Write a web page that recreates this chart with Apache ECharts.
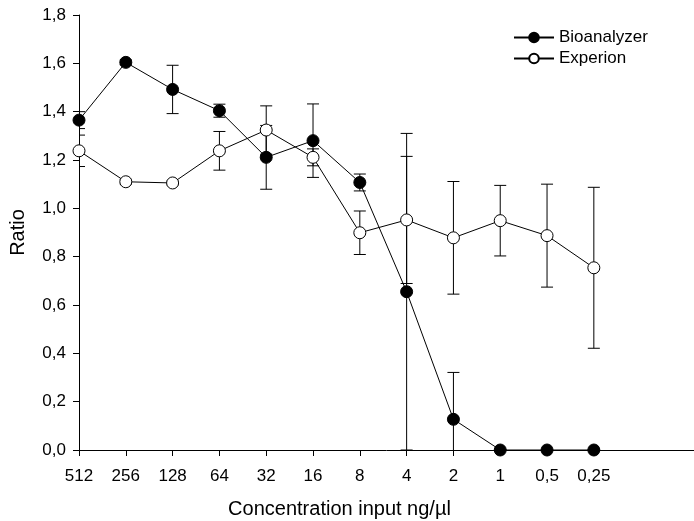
<!DOCTYPE html>
<html>
<head>
<meta charset="utf-8">
<script src="https://cdn.jsdelivr.net/npm/echarts@6/dist/echarts.min.js"></script>
<style>html,body{margin:0;padding:0;background:#fff}#c{width:694px;height:521px}</style>
</head>
<body>
<div id="c"></div>
<script>
const categories = ['512','256','128','64','32','16','8','4','2','1','0,5','0,25'];
const bioanalyzer = [1.365, 1.604, 1.492, 1.404, 1.211, 1.280, 1.107, 0.655, 0.127, 0, 0, 0];
const bioanalyzerErr = [0.035, 0.010, 0.100, 0.027, 0.132, 0.152, 0.035, 0.655, 0.194, 0, 0, 0];
const experion = [1.238, 1.110, 1.105, 1.238, 1.324, 1.211, 0.899, 0.952, 0.878, 0.949, 0.887, 0.754];
const experionErr = [0.065, 0.010, 0.008, 0.080, 0.100, 0.035, 0.090, 0.263, 0.233, 0.146, 0.213, 0.333];
const yTicks = [0, 0.2, 0.4, 0.6, 0.8, 1.0, 1.2, 1.4, 1.6, 1.8];

const FONT = 'Liberation Sans, Arial, sans-serif';
const idx = categories.map((_, i) => i);

function errData(vals, errs) {
  return vals.map((v, i) => [i, v - errs[i], v + errs[i]]);
}
function errSeries(vals, errs) {
  return {
    type: 'custom',
    clip: true,
    z: 1,
    silent: true,
    data: errData(vals, errs),
    encode: {x: 0, y: [1, 2]},
    renderItem: function (params, api) {
      const x = api.value(0);
      const lo = api.coord([x, api.value(1)]);
      const hi = api.coord([x, api.value(2)]);
      const w = 6;
      const style = {stroke: '#000', lineWidth: 1, fill: null};
      return {
        type: 'group',
        children: [
          {type: 'line', shape: {x1: lo[0], y1: lo[1], x2: hi[0], y2: hi[1]}, style: style},
          {type: 'line', shape: {x1: lo[0] - w, y1: lo[1], x2: lo[0] + w, y2: lo[1]}, style: style},
          {type: 'line', shape: {x1: hi[0] - w, y1: hi[1], x2: hi[0] + w, y2: hi[1]}, style: style}
        ]
      };
    }
  };
}

const chart = echarts.init(document.getElementById('c'), null, {renderer: 'canvas'});
chart.setOption({
  animation: false,
  backgroundColor: '#fff',
  grid: {left: 79, top: 15, right: 0, bottom: 71, containLabel: false, outerBoundsMode: 'none'},
  legend: {
    orient: 'vertical',
    left: 508,
    top: 24,
    itemWidth: 40,
    itemHeight: 12,
    itemGap: 4,
    textStyle: {fontFamily: FONT, fontSize: 17, color: '#000'},
    data: ['Bioanalyzer', 'Experion']
  },
  xAxis: {
    type: 'value',
    min: 0,
    max: 13.14,
    interval: 1,
    splitLine: {show: false},
    axisLine: {onZero: false, lineStyle: {color: '#000', width: 1}},
    axisTick: {show: true, length: 6, inside: false, customValues: idx, lineStyle: {color: '#000'}},
    axisLabel: {
      customValues: idx,
      margin: 18,
      fontFamily: FONT, fontSize: 17, color: '#000',
      formatter: function (v) { return categories[Math.round(v)] || ''; }
    },
    name: 'Concentration input ng/\u00b5l',
    nameLocation: 'middle',
    nameGap: 49,
    nameTextStyle: {fontFamily: FONT, fontSize: 20, color: '#000', padding: [0, 94, 0, 0]}
  },
  yAxis: {
    type: 'value',
    min: 0,
    max: 1.8,
    interval: 0.2,
    splitLine: {show: false},
    axisLine: {show: true, lineStyle: {color: '#000', width: 1}},
    axisTick: {show: true, length: 6, lineStyle: {color: '#000'}},
    axisLabel: {
      margin: 13,
      fontFamily: FONT, fontSize: 17, color: '#000',
      formatter: function (v) { return v.toFixed(1).replace('.', ','); }
    },
    name: 'Ratio',
    nameLocation: 'middle',
    nameGap: 51,
    nameTextStyle: {fontFamily: FONT, fontSize: 20, color: '#000'}
  },
  series: [
    errSeries(bioanalyzer, bioanalyzerErr),
    errSeries(experion, experionErr),
    {
      name: 'Bioanalyzer',
      type: 'line',
      z: 3,
      data: bioanalyzer.map((v, i) => [i, v]),
      symbol: 'circle',
      symbolSize: 12,
      clip: false,
      lineStyle: {color: '#000', width: 1},
      itemStyle: {color: '#000', borderColor: '#000', borderWidth: 1}
    },
    {
      name: 'Experion',
      type: 'line',
      z: 4,
      data: experion.map((v, i) => [i, v]),
      symbol: 'circle',
      symbolSize: 12,
      clip: false,
      lineStyle: {color: '#000', width: 1},
      itemStyle: {color: '#fff', borderColor: '#000', borderWidth: 1}
    }
  ]
});
</script>
</body>
</html>
